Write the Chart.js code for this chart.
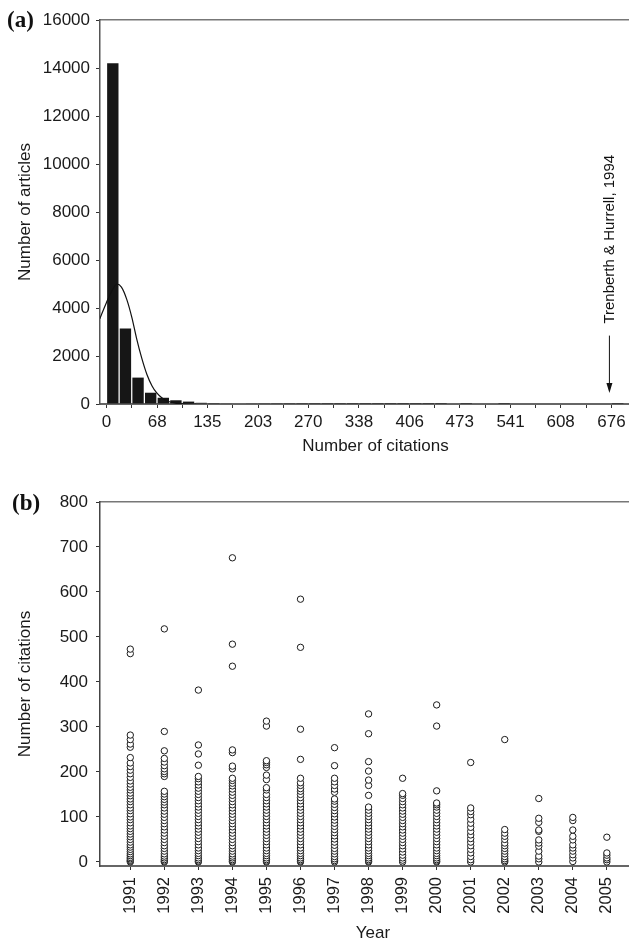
<!DOCTYPE html>
<html lang="en">
<head>
    <meta charset="UTF-8">
    <title>Citations</title>
    <script src="https://cdn.jsdelivr.net/npm/chart.js@4.4.6/dist/chart.umd.min.js"></script>
    <style>
        body { margin: 0; background: #fff; overflow: hidden; }
        #page { position: relative; width: 629px; height: 944px; overflow: hidden; }
        canvas { position: absolute; left: 0; }
        .tag { position: absolute; font: bold 23px "Liberation Serif", "Times New Roman", serif; line-height: 23px; color: #111; }
    </style>
</head>
<body>
<div id="page">
    <canvas id="histChart" width="651" height="460" style="top:0"></canvas>
    <canvas id="yearChart" width="651" height="484" style="top:460px"></canvas>
    <div class="tag" style="left:7px;top:8px">(a)</div>
    <div class="tag" style="left:12px;top:491px">(b)</div>
</div>
<script>
// panel (a): histogram of citations per article, bins of 16.9 citations
const binWidth = 16.9;
const articleCounts = [14200, 3150, 1100, 470, 260, 155, 100, 50, 35, 25, 20, 15, 12, 9, 7, 5, 4, 3, 3, 2,
                       2, 2, 1, 1, 1, 1, 1, 0, 1, 0, 0, 1, 0, 0, 0, 0, 0, 0, 0, 0, 1];
// fitted curve
const curveX = [-9, 0, 7, 14, 20, 27, 34, 40, 47, 54, 61, 67, 74, 81, 92, 105, 120];
const curveY = [3550, 4230, 4700, 5000, 4870, 4370, 3600, 2770, 1930, 1240, 750, 470, 260, 125, 40, 5, 0];
const citationTicks = [0, 68, 135, 203, 270, 338, 406, 473, 541, 608, 676];
const articleTicks = [0, 2000, 4000, 6000, 8000, 10000, 12000, 14000, 16000];

// panel (b): citations of each article by publication year
const years = [1991, 1992, 1993, 1994, 1995, 1996, 1997, 1998, 1999, 2000, 2001, 2002, 2003, 2004, 2005];
const yearCitations = [
    [0,2,4,7,10,14,18,23,28,33,38,44,50,56,62,68,74,80,87,94,100,107,114,120,127,134,140,147,153,160,166,173,180,188,196,204,212,220,232,255,262,272,282,463,473],
    [0,2,5,9,13,18,24,30,36,43,50,57,64,71,78,85,92,99,106,113,120,127,133,139,145,151,157,190,196,201,207,214,222,230,247,290,518],
    [0,2,5,9,14,19,25,31,38,45,52,59,66,73,80,87,94,101,108,115,122,129,136,143,150,157,164,171,178,185,190,215,240,260,382],
    [0,2,5,9,13,18,24,30,36,43,50,57,64,71,78,85,92,99,106,113,120,127,134,141,148,155,162,169,175,181,186,207,213,243,249,435,484,676],
    [0,2,5,9,14,19,25,31,38,45,52,59,66,73,80,87,94,101,108,115,122,129,136,143,150,160,165,183,193,210,216,221,225,302,313],
    [0,2,5,9,14,19,25,31,38,45,52,59,66,73,80,87,94,101,108,115,122,129,136,143,150,157,163,170,176,186,228,295,477,584],
    [0,3,7,12,18,24,30,37,44,51,58,65,72,79,86,93,100,107,114,121,128,135,140,155,162,170,178,186,214,254],
    [0,2,5,9,14,19,25,31,38,45,52,59,66,73,80,87,94,101,108,115,122,148,170,182,202,223,285,329],
    [0,4,9,15,22,29,36,43,50,57,64,71,78,85,92,99,106,113,120,127,134,141,148,152,186],
    [0,2,5,9,14,19,25,31,38,45,52,59,66,73,80,87,94,101,108,115,122,127,131,158,302,349],
    [0,5,12,20,28,36,44,52,60,68,77,86,95,105,112,120,221],
    [0,3,7,12,18,24,30,36,42,50,57,64,72,272],
    [0,7,13,24,35,42,49,68,71,88,97,141],
    [1,9,16,24,31,38,49,57,71,92,99],
    [0,5,9,15,20,55]
];
const citationAxisTicks = [0, 100, 200, 300, 400, 500, 600, 700, 800];

Chart.defaults.font.family = '"Liberation Sans", Arial, sans-serif';
Chart.defaults.font.size = 17;
Chart.defaults.color = '#1a1a1a';

// arrow + rotated note pointing at the most cited paper
const noteArrow = {
    id: 'noteArrow',
    afterDatasetsDraw(chart, args, opts) {
        const { ctx, scales: { x, y } } = chart;
        const px = x.getPixelForValue(opts.at) - 2;
        const yFrom = y.getPixelForValue(opts.arrowFrom);
        const yTo = y.getPixelForValue(opts.arrowTo);
        ctx.save();
        ctx.strokeStyle = '#111';
        ctx.fillStyle = '#111';
        ctx.lineWidth = 1;
        ctx.beginPath();
        ctx.moveTo(px, yFrom);
        ctx.lineTo(px, yTo - 6);
        ctx.stroke();
        ctx.beginPath();
        ctx.moveTo(px - 3, yTo - 10);
        ctx.lineTo(px + 3, yTo - 10);
        ctx.lineTo(px, yTo);
        ctx.closePath();
        ctx.fill();
        ctx.translate(px, y.getPixelForValue(opts.textFrom));
        ctx.rotate(-Math.PI / 2);
        ctx.font = '15px "Liberation Sans", Arial, sans-serif';
        ctx.textAlign = 'left';
        ctx.textBaseline = 'middle';
        ctx.fillText(opts.text, 0, 0);
        ctx.restore();
    }
};

// ticks every half label step, labelled every other one
const citationMinor = [];
citationTicks.forEach((v, i) => {
    citationMinor.push(v);
    if (i < citationTicks.length - 1) citationMinor.push((v + citationTicks[i + 1]) / 2);
});

const topBorder = {
    type: 'linear', position: 'top', display: true,
    ticks: { display: false },
    grid: { drawOnChartArea: false, drawTicks: false },
    border: { color: '#777', width: 1.5 },
    afterFit: s => { s.height = 0; }
};

new Chart(document.getElementById('histChart'), {
    type: 'bar',
    data: {
        datasets: [
            {
                type: 'bar',
                data: articleCounts.map((n, i) => ({ x: (i + 0.5) * binWidth, y: n })),
                backgroundColor: '#161616',
                barPercentage: 0.9,
                categoryPercentage: 1,
                order: 2
            },
            {
                type: 'line',
                data: curveX.map((x, i) => ({ x: x, y: curveY[i] })),
                borderColor: '#111',
                borderWidth: 1.2,
                pointRadius: 0,
                cubicInterpolationMode: 'monotone',
                order: 1
            }
        ]
    },
    options: {
        responsive: false,
        animation: false,
        devicePixelRatio: 1,
        layout: { padding: { top: 20, left: 0, right: 0, bottom: 0 } },
        plugins: {
            legend: { display: false },
            tooltip: { enabled: false },
            noteArrow: { at: 676, arrowFrom: 2850, arrowTo: 460, textFrom: 3350, text: 'Trenberth & Hurrell, 1994' }
        },
        scales: {
            x: {
                type: 'linear', position: 'bottom', min: -8.7, max: 729,
                offset: false,
                afterBuildTicks: s => { s.ticks = citationMinor.map(v => ({ value: v })); },
                afterFit: s => { s.height = 56; },
                ticks: {
                    autoSkip: false, maxRotation: 0, minRotation: 0, padding: 4,
                    callback: v => citationTicks.includes(v) ? String(v) : ''
                },
                grid: { drawOnChartArea: false, offset: false, tickLength: 4, color: '#333' },
                border: { color: '#666', width: 2 },
                title: { display: true, text: 'Number of citations', padding: { top: 0, bottom: 3 } }
            },
            xTop: topBorder,
            y: {
                min: 0, max: 16000,
                afterBuildTicks: s => { s.ticks = articleTicks.map(v => ({ value: v })); },
                afterFit: s => { s.width = 100; },
                ticks: { padding: 6, callback: v => String(v) },
                grid: { drawOnChartArea: false, tickLength: 4, color: '#333' },
                border: { color: '#555', width: 1.5 },
                title: { display: true, text: 'Number of articles', padding: { top: 15, bottom: 0 } }
            }
        }
    },
    plugins: [noteArrow]
});

const yearPoints = [];
years.forEach((yr, i) => {
    yearCitations[i].forEach(c => yearPoints.push({ x: yr, y: c }));
});

new Chart(document.getElementById('yearChart'), {
    type: 'scatter',
    data: {
        datasets: [{
            data: yearPoints,
            pointRadius: 3.2,
            borderWidth: 1,
            borderColor: '#1a1a1a',
            backgroundColor: '#fff'
        }]
    },
    options: {
        responsive: false,
        animation: false,
        devicePixelRatio: 1,
        layout: { padding: { top: 42, left: 0, right: 0, bottom: 0 } },
        plugins: { legend: { display: false }, tooltip: { enabled: false } },
        scales: {
            x: {
                type: 'linear', position: 'bottom', min: 1990.11, max: 2006.15,
                afterBuildTicks: s => { s.ticks = years.map(v => ({ value: v })); },
                afterFit: s => { s.height = 78; },
                ticks: {
                    autoSkip: false, maxRotation: 90, minRotation: 90, padding: 7,
                    font: { size: 16.5 },
                    callback: v => String(v)
                },
                grid: { drawOnChartArea: false, tickLength: 4, color: '#333' },
                border: { color: '#666', width: 2 },
                title: { display: true, text: 'Year', padding: { top: 0, bottom: 0 } }
            },
            xTop: topBorder,
            y: {
                min: -9, max: 800,
                afterBuildTicks: s => { s.ticks = citationAxisTicks.map(v => ({ value: v })); },
                afterFit: s => { s.width = 100; },
                ticks: { padding: 8, callback: v => String(v) },
                grid: { drawOnChartArea: false, tickLength: 4, color: '#333' },
                border: { color: '#444', width: 1.5 },
                title: { display: true, text: 'Number of citations', padding: { top: 15, bottom: 0 } }
            }
        }
    }
});
</script>
</body>
</html>
